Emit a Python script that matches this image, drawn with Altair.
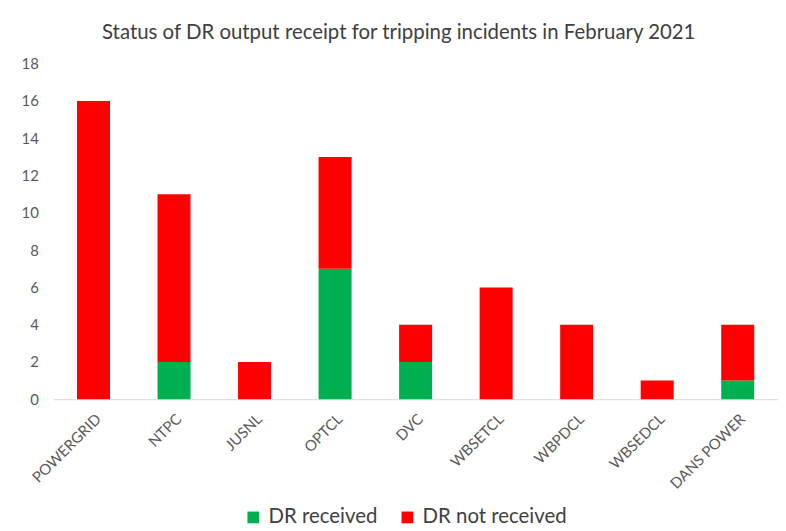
import altair as alt
import pandas as pd

companies = ["POWERGRID", "NTPC", "JUSNL", "OPTCL", "DVC", "WBSETCL", "WBPDCL", "WBSEDCL", "DANS POWER"]
dr_received = [0, 2, 0, 7, 2, 0, 0, 0, 1]
dr_not_received = [16, 9, 2, 6, 2, 6, 4, 1, 3]
series = ["DR received", "DR not received"]
colors = ["#00b050", "#ff0000"]

rows = []
for c, r, n in zip(companies, dr_received, dr_not_received):
    rows.append({"company": c, "status": series[0], "count": r, "ord": 0})
    rows.append({"company": c, "status": series[1], "count": n, "ord": 1})
df = pd.DataFrame(rows)

FONT = "Lato"

chart = alt.Chart(df).mark_bar().encode(
    x=alt.X("company:N", sort=companies, title=None,
            scale=alt.Scale(paddingInner=0.59, paddingOuter=0.295),
            axis=alt.Axis(labelAngle=-45, ticks=False, domainColor="#d9d9d9",
                          labelColor="#595959", labelFontSize=15, labelFont=FONT,
                          labelPadding=12)),
    y=alt.Y("count:Q", stack="zero", title=None,
            scale=alt.Scale(domain=[0, 18]),
            axis=alt.Axis(values=list(range(0, 19, 2)), grid=False, domain=False, ticks=False,
                          labelColor="#595959", labelFontSize=15, labelFont=FONT,
                          labelPadding=15)),
    color=alt.Color("status:N", scale=alt.Scale(domain=series, range=colors),
                    legend=alt.Legend(title=None, orient="none", direction="horizontal",
                                      legendX=191, legendY=446, symbolType="square",
                                      symbolSize=140, symbolStrokeWidth=0,
                                      labelFontSize=20.5, labelFont=FONT, labelColor="#404040",
                                      labelOffset=5, columnPadding=20, symbolOffset=0)),
    order=alt.Order("ord:Q", sort="ascending"),
).properties(
    width=729,
    height=337.5,
    padding={"left": 45.5, "top": 54.5, "right": 0, "bottom": 129},
    autosize=alt.AutoSizeParams(type="none"),
    title=alt.TitleParams("Status of DR output receipt for tripping incidents in February 2021",
                          fontSize=20.5, font=FONT, fontWeight="normal", color="#404040",
                          offset=13, dx=-17, anchor="middle"),
).configure_view(stroke=None)

chart.save("out.html", embed_options={"renderer": "svg", "actions": False})
